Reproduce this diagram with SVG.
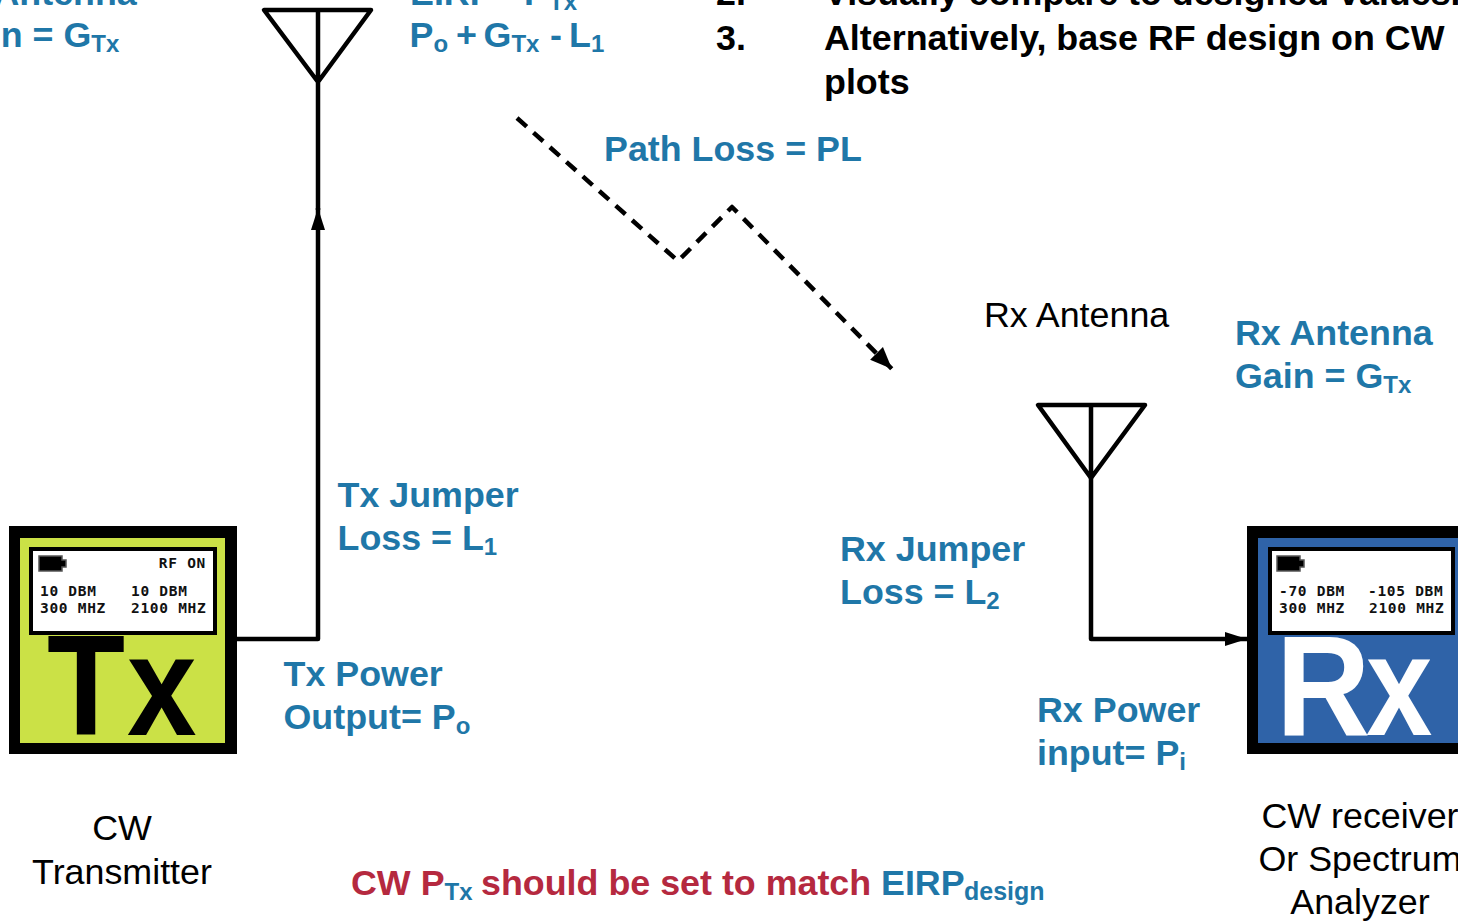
<svg xmlns="http://www.w3.org/2000/svg" width="1458" height="922" viewBox="0 0 1458 922">
<style>
text{font-family:"Liberation Sans",Arial,sans-serif}
.b{font-size:35.85px;font-weight:700;fill:#1f77a8}
.k{font-size:35.85px;fill:#000}
.h{font-size:35.85px;font-weight:700;fill:#000}
.r{font-size:35.85px;font-weight:700;fill:#b5293f}
.s{font-size:24px}
.m{font-size:14.5px;font-weight:700;letter-spacing:.7px;font-family:"DejaVu Sans Mono","Liberation Mono",monospace;fill:#111}
.l{fill:none;stroke:#000;stroke-width:4.5;stroke-linejoin:round}
.big{font-size:142px;font-weight:700}
.bat{fill:#000;stroke:#555;stroke-width:1.5}
</style>
<defs>
<marker id="a" markerUnits="userSpaceOnUse" markerWidth="24" markerHeight="18" refX="22" refY="9" orient="auto"><path d="M0 2L22 9L0 16z" fill="#000"/></marker>
<marker id="d" markerUnits="userSpaceOnUse" markerWidth="24" markerHeight="22" refX="22" refY="11" orient="auto"><path d="M0 2L22 11L0 20z" fill="#000"/></marker>
</defs>
<rect width="1458" height="922" fill="#fff"/>
<g id="connectors">
<path class="l" d="M237 639H318V208" marker-end="url(#a)"/>
<path class="l" d="M1091 478V639H1247" marker-end="url(#a)"/>
<path class="l" stroke-width="5" stroke-dasharray="13 9" d="M517 118L678 261L732 207L892 369" marker-end="url(#d)"/>
</g>
<g id="tx-antenna"><path class="l" d="M264 10H371L318 82ZM318 10V210"/></g>
<g id="rx-antenna"><path class="l" d="M1038 405H1145L1091 478ZM1091 405V478"/></g>
<g id="tx-device">
<rect x="9" y="526" width="228" height="228" fill="#000"/>
<rect x="20" y="538" width="205" height="205" fill="#cbe146"/>
<rect x="31" y="549" width="184" height="84" fill="#fff" stroke="#000" stroke-width="4"/>
<path class="bat" d="M39 556H62V560H66V567H62V571H39Z"/>
<text class="m" x="206" y="568" text-anchor="end">RF ON</text>
<text class="m" x="40" y="596">10 DBM</text><text class="m" x="131" y="596">10 DBM</text>
<text class="m" x="40" y="613">300 MHZ</text><text class="m" x="131" y="613">2100 MHZ</text>
<text class="big" transform="translate(47 735) scale(.9 1)" fill="#000">T</text>
<text class="big" transform="translate(127 735) scale(.88 1)" fill="#000">x</text>
</g>
<g id="rx-device">
<rect x="1247" y="526" width="211" height="228" fill="#000"/>
<rect x="1258" y="538" width="200" height="205" fill="#2f63a8"/>
<rect x="1270" y="549" width="183" height="84" fill="#fff" stroke="#000" stroke-width="4"/>
<path class="bat" d="M1277 556H1300V560H1304V567H1300V571H1277Z"/>
<text class="m" x="1279" y="596">-70 DBM</text><text class="m" x="1368" y="596">-105 DBM</text>
<text class="m" x="1279" y="613">300 MHZ</text><text class="m" x="1369" y="613">2100 MHZ</text>
<text class="big" transform="translate(1276 735) scale(.92 1)" fill="#fff">R</text>
<text class="big" transform="translate(1366 735) scale(.84 1)" fill="#fff">x</text>
</g>
<g id="labels">
<text class="b" x="-57" y="5">Tx Antenna</text>
<text class="b" x="-57" y="47">Gain = G<tspan class="s" dy="5">Tx</tspan></text>
<text class="b" x="410" y="5">EIRP = <tspan x="524">P</tspan><tspan class="s" dy="5" x="549">Tx</tspan></text>
<text class="b" x="409.500" y="47">P<tspan class="s" dy="5">o</tspan><tspan dy="-5" x="456">+</tspan><tspan x="483.500">G</tspan><tspan class="s" dy="5">Tx</tspan><tspan dy="-5" x="550">-</tspan><tspan x="569">L</tspan><tspan class="s" dy="5">1</tspan></text>
<text class="h" x="716" y="5">2.</text><text class="h" x="824" y="5">Visually compare to designed values.</text>
<text class="h" x="716" y="50">3.</text><text class="h" x="824" y="50">Alternatively, base RF design on CW</text>
<text class="h" x="824" y="94">plots</text>
<text class="b" x="604" y="161">Path Loss = PL</text>
<text class="k" x="984" y="327">Rx Antenna</text>
<text class="b" x="1235" y="345">Rx Antenna</text>
<text class="b" x="1235" y="388">Gain = G<tspan class="s" dy="5">Tx</tspan></text>
<text class="b" x="337.500" y="507">Tx Jumper</text>
<text class="b" x="337.500" y="550">Loss = L<tspan class="s" dy="5">1</tspan></text>
<text class="b" x="840" y="561">Rx Jumper</text>
<text class="b" x="840" y="604">Loss = L<tspan class="s" dy="5">2</tspan></text>
<text class="b" x="283.500" y="686">Tx Power</text>
<text class="b" x="283.500" y="729">Output= P<tspan class="s" dy="5">o</tspan></text>
<text class="b" x="1037" y="722">Rx Power</text>
<text class="b" x="1037" y="765">input= P<tspan class="s" dy="5">i</tspan></text>
<text class="k" x="122" y="840" text-anchor="middle">CW</text>
<text class="k" x="122" y="884" text-anchor="middle">Transmitter</text>
<text class="k" x="1360" y="828" text-anchor="middle">CW receiver</text>
<text class="k" x="1360" y="871" text-anchor="middle">Or Spectrum</text>
<text class="k" x="1360" y="914" text-anchor="middle">Analyzer</text>
<text class="r" x="351" y="895">CW P<tspan class="s" dy="5" fill="#1f77a8">Tx</tspan><tspan dy="-5" x="481">should be set to match </tspan><tspan fill="#1f77a8" x="881">EIRP</tspan><tspan class="s" dy="5" fill="#1f77a8" x="964" style="font-size:25px">design</tspan></text>
</g>
</svg>
